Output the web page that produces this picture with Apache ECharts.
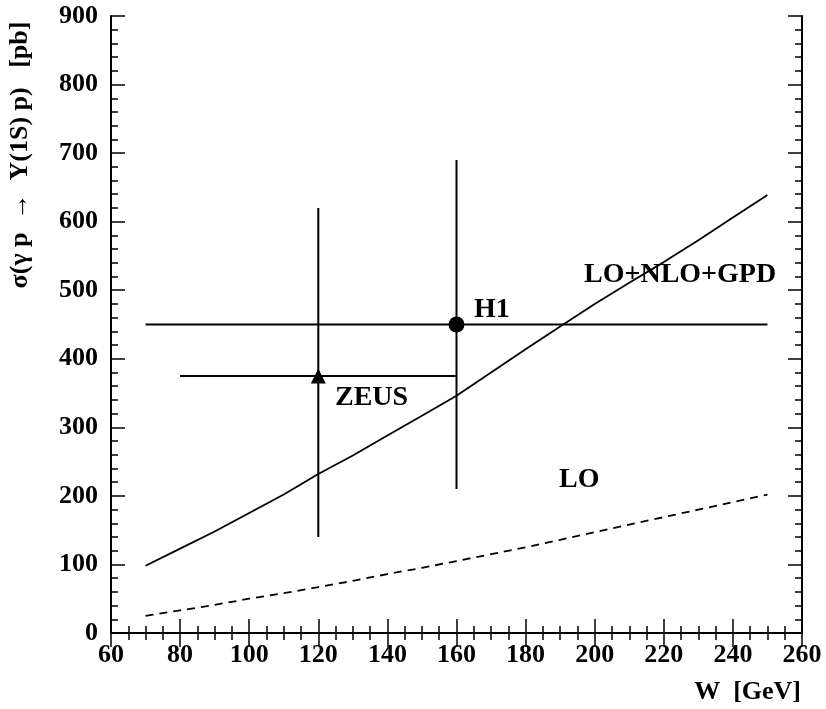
<!DOCTYPE html>
<html>
<head>
<meta charset="utf-8">
<script src="https://cdn.jsdelivr.net/npm/echarts@6/dist/echarts.min.js"></script>
<style>
  html, body { margin: 0; padding: 0; background: #fff; }
  #chart { width: 826px; height: 709px; }
</style>
</head>
<body>
<div id="chart"></div>
<script>
// W grid of the theory curves [GeV]
const wGrid = [70, 80, 90, 100, 110, 120, 130, 140, 150, 160, 170, 180, 190, 200, 210, 220, 230, 240, 250];
// LO+NLO+GPD (solid)
const sigmaFull = [98, 123, 148, 175, 202, 232, 259, 288, 317, 346, 380, 414, 447, 480, 511, 541, 573, 606, 639];
// LO (dashed)
const sigmaLO = [25, 33, 41, 50, 58, 67, 76, 86, 95, 105, 115, 125, 136, 147, 158, 169, 180, 191, 202];

// data points with error bars
const pointNames = ["H1", "ZEUS"];
const pointW = [160, 120];
const pointSigma = [450, 375];
const wLow = [70, 80];
const wHigh = [250, 160];
const sigmaLow = [210, 140];
const sigmaHigh = [690, 620];
const pointSymbols = ["circle", "triangle"];

const font = "'Liberation Serif', 'Times New Roman', serif";

const chart = echarts.init(document.getElementById("chart"));

// 通用坐标轴样式：刻度朝内，带次刻度
const axisCommon = {
  type: "value",
  axisLine: { show: true, lineStyle: { color: "#000", width: 2 } },
  axisTick: { show: true, inside: true, length: 14, lineStyle: { color: "#000", width: 1.5 } },
  minorTick: { show: true, length: 7, lineStyle: { color: "#000", width: 1.5 } },
  splitLine: { show: false },
  axisLabel: { color: "#000", fontFamily: font, fontWeight: "bold", fontSize: 26 },
};

const xBase = { ...axisCommon, min: 60, max: 260, interval: 20 };
xBase.minorTick = { ...axisCommon.minorTick, splitNumber: 4 };
const yBase = { ...axisCommon, min: 0, max: 900, interval: 100 };
yBase.minorTick = { ...axisCommon.minorTick, splitNumber: 5 };

// 文字注释
const label = (text, x, y, size, align) => ({
  type: "text", x, y,
  style: {
    text, font: `bold ${size}px ${font}`, fill: "#000",
    align: align || "left", verticalAlign: "middle",
  },
});

const option = {
  animation: false,
  backgroundColor: "#fff",
  grid: { left: 111, right: 24, top: 16, bottom: 76 },
  xAxis: [
    { ...xBase, position: "bottom", axisLabel: { ...axisCommon.axisLabel, margin: 9 } },
    { ...xBase, position: "top", axisLabel: { show: false } },
  ],
  yAxis: [
    { ...yBase, position: "left", axisLabel: { ...axisCommon.axisLabel, margin: 13 } },
    { ...yBase, position: "right", axisLabel: { show: false } },
  ],
  series: [
    {
      name: "LO+NLO+GPD",
      type: "line",
      symbol: "none",
      lineStyle: { color: "#000", width: 1.8 },
      data: wGrid.map((w, i) => [w, sigmaFull[i]]),
    },
    {
      name: "LO",
      type: "line",
      symbol: "none",
      lineStyle: { color: "#000", width: 1.8, type: [8, 6] },
      data: wGrid.map((w, i) => [w, sigmaLO[i]]),
    },
    {
      // 误差棒
      name: "errors",
      type: "custom",
      renderItem: (params, api) => {
        const i = params.dataIndex;
        const l = api.coord([wLow[i], pointSigma[i]]);
        const r = api.coord([wHigh[i], pointSigma[i]]);
        const b = api.coord([pointW[i], sigmaLow[i]]);
        const t = api.coord([pointW[i], sigmaHigh[i]]);
        const style = { stroke: "#000", lineWidth: 2 };
        return {
          type: "group",
          children: [
            { type: "line", shape: { x1: l[0], y1: l[1], x2: r[0], y2: r[1] }, style },
            { type: "line", shape: { x1: b[0], y1: b[1], x2: t[0], y2: t[1] }, style },
          ],
        };
      },
      data: pointW.map((w, i) => [w, pointSigma[i]]),
      z: 3,
    },
    {
      name: "points",
      type: "scatter",
      data: pointW.map((w, i) => ({
        value: [w, pointSigma[i]],
        name: pointNames[i],
        symbol: pointSymbols[i],
        symbolSize: i === 0 ? 16 : 15,
      })),
      itemStyle: { color: "#000", opacity: 1 },
      z: 4,
    },
  ],
  graphic: [
    label("H1", 474, 310, 28),
    label("ZEUS", 335, 398, 28),
    label("LO+NLO+GPD", 584, 275, 28),
    label("LO", 559, 480, 28),
    label("W  [GeV]", 801, 692, 26, "right"),
    {
      type: "text", x: 20, y: 155, rotation: Math.PI / 2,
      style: {
        text: "σ(γ p  →  Υ(1S) p)   [pb]",
        font: `bold 26px ${font}`, fill: "#000",
        align: "center", verticalAlign: "middle",
      },
    },
  ],
};

chart.setOption(option);
window.addEventListener("resize", chart.resize);
</script>
</body>
</html>
